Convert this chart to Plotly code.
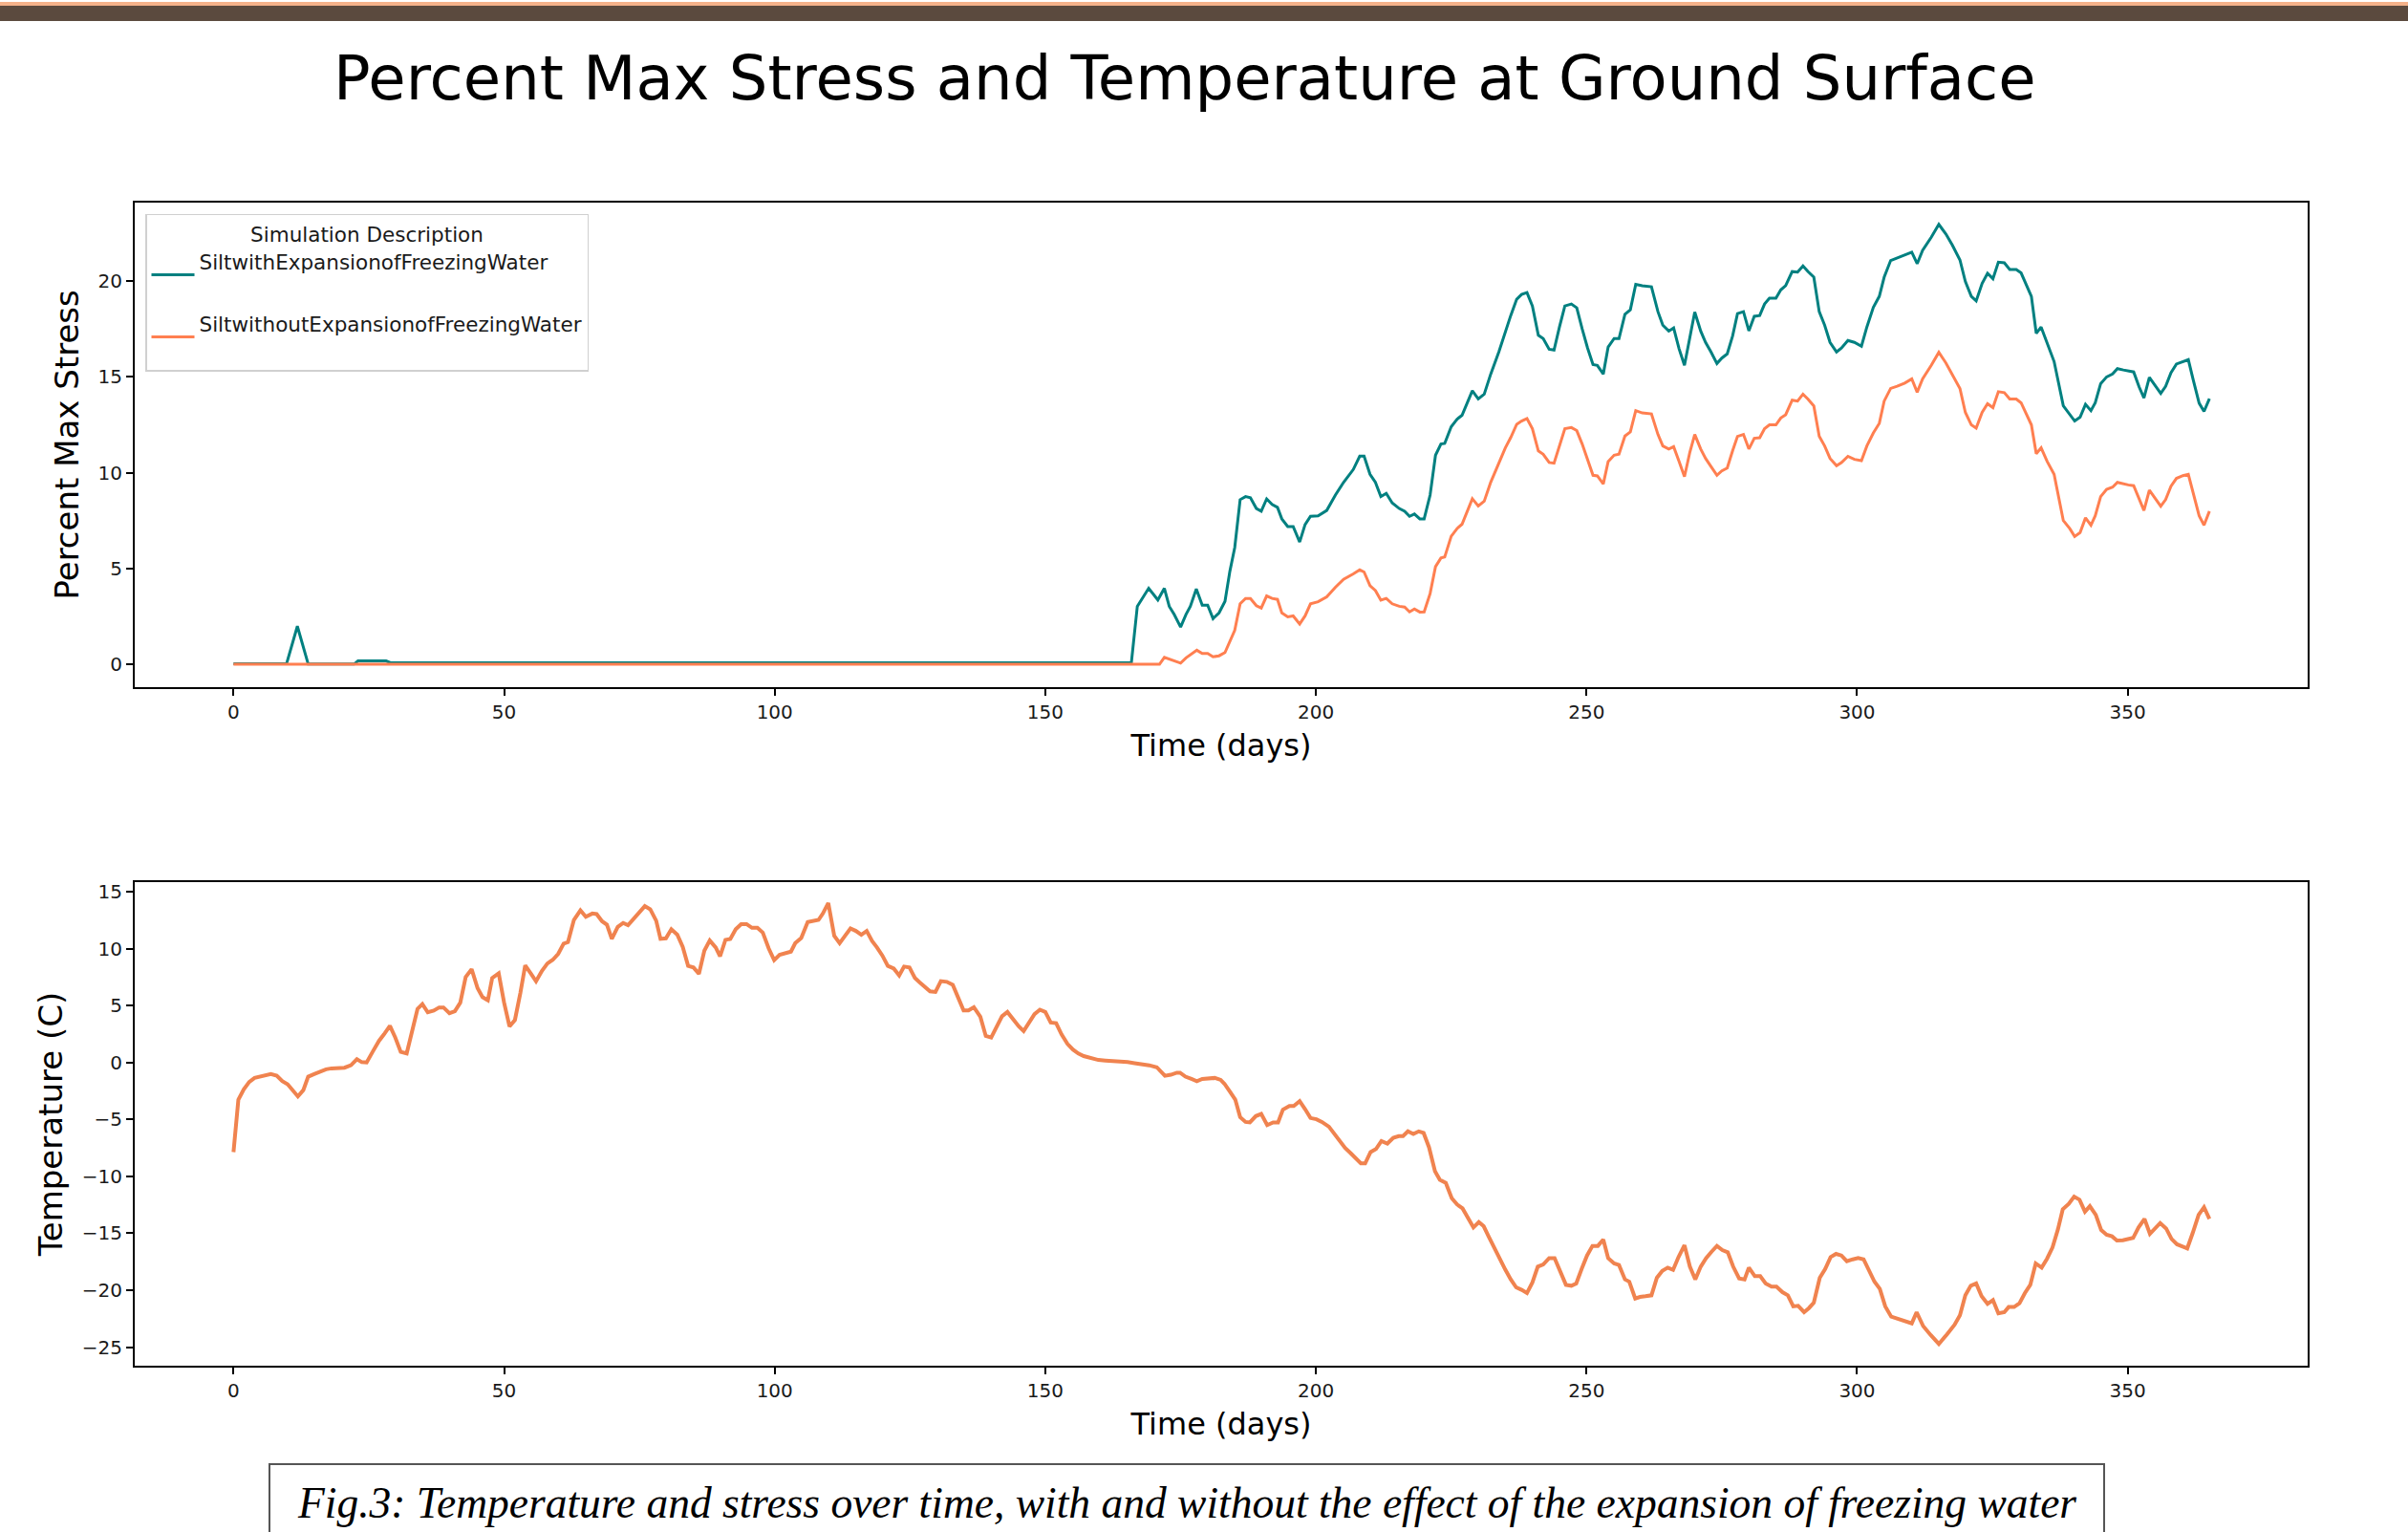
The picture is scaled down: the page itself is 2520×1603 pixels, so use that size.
import plotly.graph_objects as go

# ---------------- DATA ----------------
title_text = "Percent Max Stress and Temperature at Ground Surface"
caption_text = "Fig.3: Temperature and stress over time, with and without the effect of the expansion of freezing water"
series_names = ["SiltwithExpansionofFreezingWater", "SiltwithoutExpansionofFreezingWater"]
legend_title = "Simulation Description"
x_ticks = [0, 50, 100, 150, 200, 250, 300, 350]
stress_ticks = [0, 5, 10, 15, 20]
temp_ticks = [-25, -20, -15, -10, -5, 0, 5, 10, 15]

stress_with_days = [
    0, 9.8, 11.8, 13.8, 22.3, 23, 28.2, 29, 60, 100, 140, 165.9,
    167.0, 169.1, 170.8, 172.0, 172.9, 173.8, 175.0, 176.0, 176.8, 177.9, 179.0, 180.0,
    181.0, 182.1, 183.2, 184.1, 185.0, 186.0, 187.0, 187.9, 189.0, 189.9, 190.9, 191.9,
    192.9, 193.7, 194.8, 195.8, 197.0, 198.0, 199.0, 200.4, 202.0, 203.6, 205.1, 206.9,
    208.1, 208.9, 210.0, 211.0, 212.0, 213.0, 214.1, 215.4, 216.4, 217.3, 218.2, 219.2,
    220.0, 221.1, 222.1, 223.1, 223.8, 225.0, 226.1, 227.0, 228.9, 230.0, 231.1, 232.3,
    233.8, 235.0, 236.0, 237.1, 238.0, 239.0, 240.0, 241.1, 242.0, 243.1, 244.0, 245.0,
    246.0, 247.2, 248.2, 249.2, 250.2, 251.2, 252.0, 253.1, 254.0, 255.1, 256.0, 257.1,
    258.1, 259.1, 260.3, 262.0, 263.2, 264.1, 265.2, 266.1, 267.1, 268.1, 269.1, 270.0,
    271.1, 272.0, 273.0, 274.1, 275.0, 276.0, 277.0, 277.9, 279.0, 280.0, 281.0, 282.0,
    282.9, 283.8, 285.0, 285.9, 286.8, 288.0, 289.0, 290.0, 290.9, 292.0, 293.0, 294.0,
    295.0, 296.2, 297.1, 298.3, 299.5, 300.8, 301.8, 303.0, 304.1, 305.0, 306.2, 307.4,
    308.8, 310.1, 311.1, 312.1, 313.7, 315.1, 316.4, 317.6, 319.0, 320.0, 321.1, 322.0,
    323.1, 324.1, 325.1, 326.1, 327.2, 328.2, 329.4, 330.3, 332.2, 333.1, 334.0, 335.1,
    336.4, 338.1, 339.3, 340.2, 341.2, 342.2, 343.2, 344.0, 345.0, 346.1, 347.2, 348.1,
    349.2, 350.1, 351.1, 352.1, 353.0, 354.0, 355.0, 356.1, 357.0, 358.0, 359.0, 360.2,
    361.2, 362.1, 363.2, 364.1, 365.1,
]
stress_with = [
    0.04, 0.04, 2.0, 0.03, 0.03, 0.19, 0.19, 0.1, 0.09, 0.08, 0.1, 0.1,
    3.04, 3.98, 3.37, 3.98, 3.04, 2.62, 1.96, 2.62, 3.04, 3.95, 3.1, 3.1,
    2.4, 2.7, 3.3, 4.86, 6.1, 8.6, 8.76, 8.7, 8.14, 8.0, 8.64, 8.35,
    8.2, 7.6, 7.2, 7.2, 6.39, 7.3, 7.73, 7.76, 8.04, 8.84, 9.5, 10.17,
    10.87, 10.87, 9.92, 9.5, 8.76, 8.93, 8.43, 8.14, 8.0, 7.73, 7.85, 7.6,
    7.6, 8.84, 10.92, 11.5, 11.53, 12.4, 12.8, 13.0, 14.28, 13.85, 14.1, 15.15,
    16.3, 17.39, 18.2, 19.05, 19.3, 19.4, 18.7, 17.17, 17.0, 16.44, 16.4, 17.6,
    18.7, 18.8, 18.6, 17.5, 16.5, 15.64, 15.6, 15.15, 16.56, 17.0, 17.0, 18.26,
    18.5, 19.83, 19.75, 19.7, 18.4, 17.7, 17.39, 17.55, 16.47, 15.6, 17.14, 18.38,
    17.39, 16.8, 16.3, 15.7, 15.98, 16.2, 17.14, 18.3, 18.4, 17.4, 18.16, 18.2,
    18.8, 19.1, 19.1, 19.54, 19.76, 20.49, 20.46, 20.79, 20.5, 20.2, 18.4, 17.7,
    16.8, 16.3, 16.5, 16.9, 16.8, 16.6, 17.6, 18.63, 19.2, 20.2, 21.07, 21.2,
    21.37, 21.5, 20.9, 21.6, 22.28, 22.95, 22.45, 21.87, 21.1, 19.97, 19.2, 18.96,
    19.87, 20.4, 20.12, 20.98, 20.95, 20.6, 20.6, 20.42, 19.2, 17.27, 17.6, 16.8,
    15.8, 13.49, 13.07, 12.7, 12.9, 13.57, 13.24, 13.65, 14.65, 15.0, 15.15, 15.43,
    15.36, 15.3, 15.26, 14.48, 13.9, 14.97, 14.56, 14.14, 14.5, 15.22, 15.67, 15.8,
    15.9, 14.85, 13.63, 13.2, 13.87,
]

stress_without_days = [
    0, 50, 100, 150, 171.1,
    172.0, 172.9, 174.0, 175.0, 176.0, 177.0, 178.0, 179.0, 180.0,
    181.0, 182.1, 183.2, 184.1, 185.0, 186.0, 187.0, 187.9, 189.0, 189.9, 190.9, 191.9,
    192.9, 193.7, 194.8, 195.8, 197.0, 198.0, 199.0, 200.4, 202.0, 203.6, 205.1, 206.9,
    208.1, 208.9, 210.0, 211.0, 212.0, 213.0, 214.1, 215.4, 216.4, 217.3, 218.2, 219.2,
    220.0, 221.1, 222.1, 223.1, 223.8, 225.0, 226.1, 227.0, 228.9, 230.0, 231.1, 232.3,
    233.8, 235.0, 236.0, 237.1, 238.0, 239.0, 240.0, 241.1, 242.0, 243.1, 244.0, 245.0,
    246.0, 247.2, 248.2, 249.2, 250.2, 251.2, 252.0, 253.1, 254.0, 255.1, 256.0, 257.1,
    258.1, 259.1, 260.3, 262.0, 263.2, 264.1, 265.2, 266.1, 267.1, 268.1, 269.1, 270.0,
    271.1, 272.0, 273.0, 274.1, 275.0, 276.0, 277.0, 277.9, 279.0, 280.0, 281.0, 282.0,
    282.9, 283.8, 285.0, 285.9, 286.8, 288.0, 289.0, 290.0, 290.9, 292.0, 293.0, 294.0,
    295.0, 296.2, 297.1, 298.3, 299.5, 300.8, 301.8, 303.0, 304.1, 305.0, 306.2, 307.4,
    308.8, 310.1, 311.1, 312.1, 313.7, 315.1, 316.4, 317.6, 319.0, 320.0, 321.1, 322.0,
    323.1, 324.1, 325.1, 326.1, 327.2, 328.2, 329.4, 330.3, 332.2, 333.1, 334.0, 335.1,
    336.4, 338.1, 339.3, 340.2, 341.2, 342.2, 343.2, 344.0, 345.0, 346.1, 347.2, 348.1,
    349.2, 350.1, 351.1, 352.1, 353.0, 354.0, 355.0, 356.1, 357.0, 358.0, 359.0, 360.2,
    361.2, 362.1, 363.2, 364.1, 365.1,
]
stress_without = [
    0.02, 0.02, 0.02, 0.02, 0.02,
    0.38, 0.3, 0.18, 0.08, 0.35, 0.55, 0.75, 0.58, 0.58,
    0.41, 0.46, 0.63, 1.21, 1.79, 3.17, 3.45, 3.45, 3.07, 2.95, 3.58, 3.45,
    3.4, 2.7, 2.49, 2.54, 2.12, 2.54, 3.17, 3.28, 3.53, 4.03, 4.45, 4.73,
    4.94, 4.83, 4.11, 3.86, 3.36, 3.45, 3.17, 3.04, 3.0, 2.75, 2.9, 2.74,
    2.75, 3.7, 5.11, 5.56, 5.61, 6.69, 7.1, 7.32, 8.65, 8.27, 8.52, 9.51,
    10.5, 11.3, 11.84, 12.53, 12.7, 12.83, 12.3, 11.14, 10.97, 10.54, 10.5, 11.42,
    12.3, 12.36, 12.2, 11.5, 10.67, 9.87, 9.84, 9.42, 10.59, 10.92, 10.97, 11.92,
    12.13, 13.24, 13.12, 13.07, 12.0, 11.4, 11.24, 11.36, 10.6, 9.8, 11.08, 12.0,
    11.24, 10.75, 10.33, 9.87, 10.1, 10.25, 11.16, 11.9, 12.0, 11.24, 11.8, 11.83,
    12.3, 12.5, 12.5, 12.86, 13.03, 13.79, 13.74, 14.1, 13.85, 13.49, 11.9, 11.4,
    10.75, 10.37, 10.53, 10.86, 10.7, 10.63, 11.4, 12.08, 12.58, 13.74, 14.4, 14.51,
    14.68, 14.9, 14.2, 14.9, 15.6, 16.28, 15.73, 15.15, 14.4, 13.15, 12.5, 12.33,
    13.15, 13.6, 13.4, 14.23, 14.18, 13.85, 13.85, 13.65, 12.5, 11.0, 11.3, 10.6,
    9.92, 7.51, 7.09, 6.68, 6.88, 7.65, 7.27, 7.76, 8.76, 9.14, 9.25, 9.5,
    9.42, 9.37, 9.33, 8.67, 8.04, 9.09, 8.71, 8.26, 8.6, 9.3, 9.71, 9.85,
    9.92, 8.92, 7.76, 7.27, 8.0,
]

temp_days = [
    0, 0.9, 1.9, 2.9, 3.9, 4.9, 5.9, 6.9, 8.0, 9.0, 10.0, 11.0, 11.9, 12.9, 13.8, 14.9,
    16.1, 17.1, 18.1, 19.1, 20.5, 21.7, 22.8, 23.7, 24.6, 25.7, 26.9, 27.8, 28.9, 29.9,
    30.9, 32.0, 33.0, 34.0, 34.9, 35.9, 37.0, 38.0, 38.8, 39.9, 40.9, 41.9, 42.9, 44.0,
    45.1, 46.0, 47.0, 47.8, 49.0, 50.0, 51.0, 52.0, 53.0, 53.9, 55.0, 55.9, 57.0, 58.0,
    59.0, 60.0, 61.0, 61.8, 62.9, 64.1, 65.1, 66.3, 67.1, 68.1, 69.0, 69.9, 71.0, 72.0,
    72.9, 73.9, 75.1, 76.0, 77.0, 78.1, 78.9, 79.9, 80.9, 82.0, 83.0, 84.0, 85.0, 86.0,
    87.0, 88.0, 89.1, 89.9, 90.9, 91.8, 92.8, 93.8, 94.8, 95.8, 96.8, 97.8, 98.9, 99.9,
    100.9, 102.1, 103.0, 103.8, 104.9, 106.1, 107.0, 108.1, 108.9, 109.9, 111.0, 112.0,
    113.0, 114.0, 115.0, 116.0, 117.0, 118.0, 118.9, 119.9, 120.9, 122.0, 123.0, 123.9,
    124.9, 125.9, 126.8, 127.8, 128.7, 129.7, 130.7, 131.8, 132.9, 133.9, 134.9, 135.8,
    136.8, 138.0, 139.0, 140.0, 141.0, 142.0, 143.0, 144.1, 145.1, 146.0, 147.0, 148.0,
    149.0, 150.0, 151.0, 152.0, 153.0, 154.1, 155.1, 156.1, 157.1, 158.4, 159.8, 161.1,
    162.5, 163.9, 165.2, 166.5, 167.9, 169.2, 170.6, 171.2, 172.1, 173.2, 174.3, 174.9,
    175.9, 177.0, 178.0, 179.0, 180.2, 181.3, 182.4, 183.1, 184.1, 185.1, 186.0, 187.0,
    187.8, 188.9, 189.9, 191.0, 192.1, 193.0, 193.9, 195.1, 195.9, 197.0, 198.0, 199.0,
    200.1, 201.1, 202.4, 203.4, 204.4, 205.4, 206.4, 207.4, 208.3, 209.1, 210.1, 211.1,
    212.1, 213.2, 214.3, 215.3, 216.1, 217.0, 218.0, 219.0, 219.9, 220.9, 222.0, 222.9,
    224.0, 225.1, 226.1, 227.1, 228.2, 229.1, 230.1, 231.0, 231.9, 232.9, 233.9, 235.0,
    236.0, 237.0, 238.0, 239.0, 240.0, 241.0, 242.0, 243.1, 244.1, 245.1, 246.2, 247.2,
    248.1, 249.1, 250.1, 251.1, 252.1, 253.1, 254.0, 255.1, 256.0, 257.1, 257.9, 259.0,
    259.9, 260.9, 262.0, 263.0, 264.0, 265.0, 266.0, 267.0, 268.1, 269.1, 270.1, 271.1,
    272.1, 273.1, 274.1, 275.1, 276.1, 277.1, 278.2, 279.2, 280.0, 281.1, 282.1, 283.1,
    284.2, 285.1, 286.2, 287.2, 288.2, 289.1, 290.2, 291.1, 292.0, 293.1, 294.1, 295.1,
    296.1, 297.1, 298.1, 299.2, 300.2, 301.2, 302.2, 303.2, 304.2, 305.2, 306.3, 307.3,
    308.3, 309.3, 310.1, 311.0, 312.2, 313.6, 315.1, 316.6, 318.0, 319.0, 320.0, 321.0,
    322.0, 323.0, 324.1, 325.1, 326.1, 327.2, 328.0, 329.0, 330.0, 331.0, 332.0, 333.0,
    334.1, 335.1, 336.1, 337.1, 338.0, 339.1, 340.1, 341.1, 342.1, 343.0, 344.1, 345.1,
    346.1, 347.1, 348.0, 349.1, 350.0, 351.0, 352.0, 353.1, 354.1, 355.1, 356.0, 357.1,
    358.1, 359.1, 360.0, 361.0, 362.0, 363.1, 364.1, 365.1,
]
temp_vals = [
    -7.87, -3.26, -2.37, -1.72, -1.36, -1.22, -1.11, -1.02, -1.16, -1.64, -1.92, -2.51, -2.98, -2.43, -1.25, -1.02,
    -0.74, -0.6, -0.52, -0.46, -0.46, -0.24, 0.29, 0.03, 0.0, 0.93, 1.91, 2.47, 3.22, 2.18,
    0.93, 0.79, 2.88, 4.7, 5.13, 4.4, 4.55, 4.83, 4.83, 4.33, 4.5, 5.25, 7.5, 8.19,
    6.52, 5.74, 5.46, 7.41, 7.83, 5.25, 3.17, 3.73, 6.1, 8.52, 7.77, 7.13, 8.05, 8.69,
    9.02, 9.54, 10.43, 10.57, 12.52, 13.36, 12.8, 13.08, 13.03, 12.4, 12.1, 10.85, 11.9, 12.25,
    12.05, 12.6, 13.36, 13.73, 13.45, 12.45, 10.85, 10.9, 11.7, 11.23, 10.15, 8.48, 8.34, 7.78,
    9.82, 10.71, 10.1, 9.32, 10.77, 10.85, 11.7, 12.15, 12.15, 11.82, 11.82, 11.4, 10.0, 8.98,
    9.45, 9.6, 9.73, 10.48, 10.93, 12.33, 12.44, 12.52, 13.08, 14.0, 11.13, 10.48,
    11.13, 11.77, 11.55, 11.21, 11.55, 10.66, 10.1, 9.38, 8.48, 8.25, 7.64, 8.42,
    8.34, 7.42, 7.03, 6.67, 6.25, 6.19, 7.14, 7.08, 6.81, 5.69, 4.57, 4.57,
    4.85, 4.01, 2.33, 2.19, 3.17, 4.06, 4.43, 3.73, 3.17, 2.75, 3.45, 4.24,
    4.63, 4.43, 3.51, 3.45, 2.47, 1.63, 1.13, 0.79, 0.56, 0.37, 0.22, 0.17,
    0.14, 0.08, 0.03, -0.06, -0.14, -0.25, -0.42, -0.7, -1.17, -1.08, -0.9, -0.9,
    -1.25, -1.45, -1.64, -1.45, -1.39, -1.36, -1.53, -1.87, -2.56, -3.26, -4.8, -5.22,
    -5.27, -4.71, -4.52, -5.5, -5.27, -5.27, -4.15, -3.82, -3.82, -3.4, -4.1, -4.88,
    -4.99, -5.22, -5.64, -6.28, -6.9, -7.51, -7.96, -8.4, -8.86, -8.86, -7.87, -7.6,
    -6.9, -7.12, -6.62, -6.47, -6.47, -6.05, -6.28, -6.05, -6.19, -7.45, -9.55, -10.3,
    -10.58, -11.92, -12.48, -12.82, -13.82, -14.49, -14.02, -14.38, -15.27, -16.25, -17.23, -18.2,
    -19.05, -19.75, -19.97, -20.25, -19.33, -17.93, -17.74, -17.18, -17.18, -18.35, -19.53, -19.61,
    -19.41, -18.13, -16.95, -16.11, -16.11, -15.55, -17.18, -17.65, -17.79, -19.05, -19.25, -20.73,
    -20.59, -20.53, -20.45, -18.91, -18.3, -18.02, -18.21, -17.09, -16.05, -17.93, -19.05, -17.93,
    -17.18, -16.62, -16.11, -16.48, -16.67, -17.93, -18.97, -19.05, -18.02, -18.77, -18.77, -19.41,
    -19.69, -19.69, -20.17, -20.45, -21.42, -21.37, -21.93, -21.57, -21.09, -18.91, -18.13, -17.09,
    -16.81, -16.95, -17.46, -17.29, -17.18, -17.29, -18.3, -19.25, -19.89, -21.42, -22.32, -22.49,
    -22.63, -22.77, -22.91, -21.93, -23.15, -23.94, -24.72, -23.88, -23.04, -22.2, -20.45, -19.61,
    -19.41, -20.53, -21.2, -20.87, -22.04, -21.93, -21.48, -21.48, -21.15, -20.25, -19.53, -17.65,
    -18.02, -17.23, -16.25, -14.66, -12.9, -12.42, -11.78, -12.06, -13.1, -12.62, -13.38, -14.72,
    -15.13, -15.27, -15.64, -15.61, -15.5, -15.41, -14.49, -13.74, -15.05, -14.58, -14.1, -14.58,
    -15.5, -15.97, -16.11, -16.33, -14.99, -13.38, -12.71, -13.74,
]

# ---------------- STYLE ----------------
W, H = 2520, 1603
TEAL = "#008080"
CORAL = "#FF7F50"
TEMP_COLOR = "#F0834F"
FONT = "DejaVu Sans"

def px_x(v):
    return v / W

def px_y(v):
    return 1 - v / H

x_dom = [px_x(141), px_x(2415)]
top_dom = [px_y(718), px_y(210)]
bot_dom = [px_y(1429), px_y(922)]

fig = go.Figure()

# legend labels sit above their line handle, as in the reference (blank second line)
fig.add_trace(go.Scatter(
    x=stress_with_days, y=stress_with, mode="lines", name=series_names[0] + "<br> ",
    line=dict(color=TEAL, width=3), xaxis="x", yaxis="y", legendgroup="a",
))
fig.add_trace(go.Scatter(
    x=stress_without_days, y=stress_without, mode="lines", name=series_names[1] + "<br> ",
    line=dict(color=CORAL, width=3), xaxis="x", yaxis="y", legendgroup="b",
))
fig.add_trace(go.Scatter(
    x=temp_days, y=temp_vals, mode="lines", name="Temperature",
    line=dict(color=TEMP_COLOR, width=4), xaxis="x2", yaxis="y2", showlegend=False,
))

axis_common = dict(
    showline=True, linecolor="black", linewidth=2, mirror=True,
    ticks="outside", ticklen=7, tickwidth=2, tickcolor="black",
    showgrid=False, zeroline=False,
    tickfont=dict(family=FONT, size=20, color="#1a1a1a"),
)

fig.update_layout(
    width=W, height=H,
    margin=dict(l=0, r=0, t=0, b=0),
    paper_bgcolor="white", plot_bgcolor="white",
    font=dict(family=FONT, color="black"),
    xaxis=dict(domain=x_dom, anchor="y", range=[-18.25, 383.25],
               tickvals=x_ticks,
               title=dict(text="Time (days)", font=dict(family=FONT, size=32, color="black"), standoff=12),
               **axis_common),
    yaxis=dict(domain=top_dom, anchor="x", range=[-1.18, 24.1],
               tickvals=stress_ticks,
               title=dict(text="Percent Max Stress", font=dict(family=FONT, size=34, color="black"), standoff=10),
               **axis_common),
    xaxis2=dict(domain=x_dom, anchor="y2", range=[-18.25, 383.25],
                tickvals=x_ticks,
                title=dict(text="Time (days)", font=dict(family=FONT, size=32, color="black"), standoff=12),
                **axis_common),
    yaxis2=dict(domain=bot_dom, anchor="x2", range=[-26.65, 15.85],
                tickvals=temp_ticks,
                title=dict(text="Temperature (C)", font=dict(family=FONT, size=34, color="black"), standoff=10),
                **axis_common),
    legend=dict(
        x=px_x(152), y=px_y(222), xanchor="left", yanchor="top",
        bgcolor="rgba(255,255,255,0.85)", bordercolor="#d0d0d0", borderwidth=1.5,
        font=dict(family=FONT, size=21.5, color="#1a1a1a"),
        title=dict(text=legend_title, side="top center", font=dict(family=FONT, size=21.5, color="#1a1a1a")),
        itemwidth=45, tracegroupgap=6, valign="middle",
    ),
    showlegend=True,
)

# page decoration: top band
fig.add_shape(type="rect", xref="paper", yref="paper", x0=0, x1=1, y0=px_y(20), y1=px_y(4),
              fillcolor="#5B4A3E", line=dict(width=0), layer="above")
fig.add_shape(type="rect", xref="paper", yref="paper", x0=0, x1=1, y0=px_y(4), y1=1,
              fillcolor="#F5B28A", line=dict(width=0), layer="above")

# figure title
fig.add_annotation(text=title_text, xref="paper", yref="paper", x=px_x(1240), y=px_y(80),
                   xanchor="center", yanchor="middle", showarrow=False,
                   font=dict(family=FONT, size=64, color="black"))

# caption box + caption
fig.add_shape(type="rect", xref="paper", yref="paper", x0=px_x(282), x1=px_x(2202),
              y0=px_y(1620), y1=px_y(1532), line=dict(color="#555555", width=2),
              fillcolor="rgba(0,0,0,0)")
fig.add_annotation(text="<i>" + caption_text + "</i>", xref="paper", yref="paper",
                   x=px_x(1242), y=px_y(1572), xanchor="center", yanchor="middle", showarrow=False,
                   font=dict(family="Liberation Serif", size=45.5, color="black"))

fig.write_html("out.html", config={"displayModeBar": False},
               post_script="document.body.style.margin='0';document.body.style.overflow='hidden';")
